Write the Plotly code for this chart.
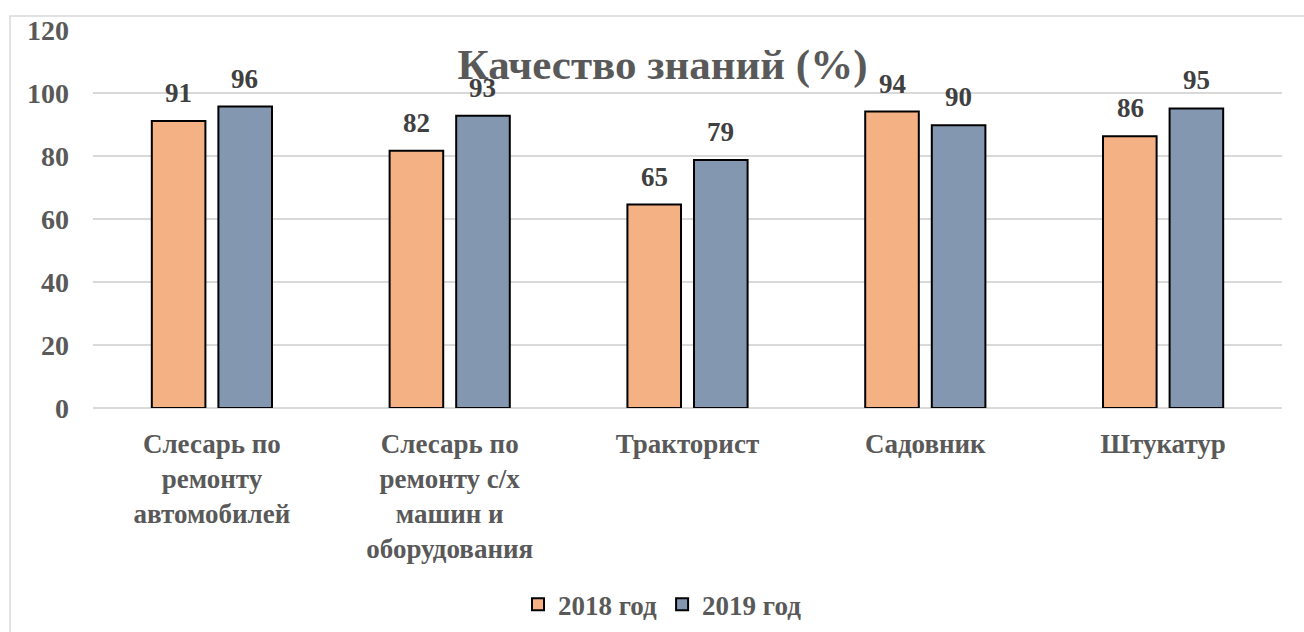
import plotly.graph_objects as go

# --- data ---
categories = [
    "Слесарь по<br>ремонту<br>автомобилей",
    "Слесарь по<br>ремонту с/х<br>машин и<br>оборудования",
    "Тракторист",
    "Садовник",
    "Штукатур",
]
values_2018 = [91.1, 81.7, 64.6, 94.1, 86.3]
values_2019 = [95.7, 92.8, 78.7, 89.8, 95.1]
series_names = ["2018 год", "2019 год"]
y_ticks = [0, 20, 40, 60, 80, 100, 120]

FONT = "Liberation Serif, Times New Roman, serif"
GRAY = "#595959"
colors = ["#F4B183", "#8497B0"]

fig = go.Figure()
for name, vals, col in zip(series_names, [values_2018, values_2019], colors):
    fig.add_trace(go.Bar(
        x=categories, y=vals, name=f"<b>{name}</b>",
        marker=dict(color=col, line=dict(color="black", width=2)),
    ))

# data labels above the bars (offset to each bar of the group)
for shift, vals in zip([-33, 33], [values_2018, values_2019]):
    for cat, v in zip(categories, vals):
        fig.add_annotation(
            x=cat, y=v, text=f"<b>{v:.0f}</b>", showarrow=False,
            xshift=shift, yshift=28, yanchor="middle",
            font=dict(family=FONT, size=27, color="#404040"),
        )

# outer chart border
fig.add_shape(type="rect", xref="paper", yref="paper",
              x0=-0.0698, x1=1.03, y0=-0.65, y1=1.037,
              line=dict(color="#D9D9D9", width=1.5), layer="below")

fig.update_layout(
    width=1304, height=632,
    margin=dict(l=93, r=22, t=30, b=224),
    paper_bgcolor="white", plot_bgcolor="white",
    barmode="group", bargap=0.44, bargroupgap=0.195,
    title=dict(text="<b>Качество знаний (%)</b>", x=0.479, xref="paper",
               xanchor="center", y=0.899, yanchor="middle",
               font=dict(family=FONT, size=43, color=GRAY)),
    legend=dict(orientation="h", x=0.479, xanchor="center",
                yref="container", y=0.043, yanchor="middle",
                font=dict(family=FONT, size=27, color=GRAY),
                itemwidth=30, traceorder="normal"),
    showlegend=True,
)
fig.update_xaxes(
    tickfont=dict(family=FONT, size=27, color=GRAY),
    tickprefix="<b>", ticksuffix="</b>",
    showline=False, ticks="", ticklabelstandoff=17, automargin=False,
)
fig.update_yaxes(
    range=[0, 120], tickvals=y_ticks,
    ticktext=[f"<b>{t}</b>" for t in y_ticks],
    tickfont=dict(family=FONT, size=28, color=GRAY),
    showgrid=True, gridcolor="#D9D9D9", gridwidth=1.5,
    zeroline=True, zerolinecolor="#D9D9D9", zerolinewidth=1.5,
    ticks="", ticklabelstandoff=23, automargin=False,
)

fig.write_html("out.html", config={"displayModeBar": False},
               post_script="document.body.style.margin='0';")
